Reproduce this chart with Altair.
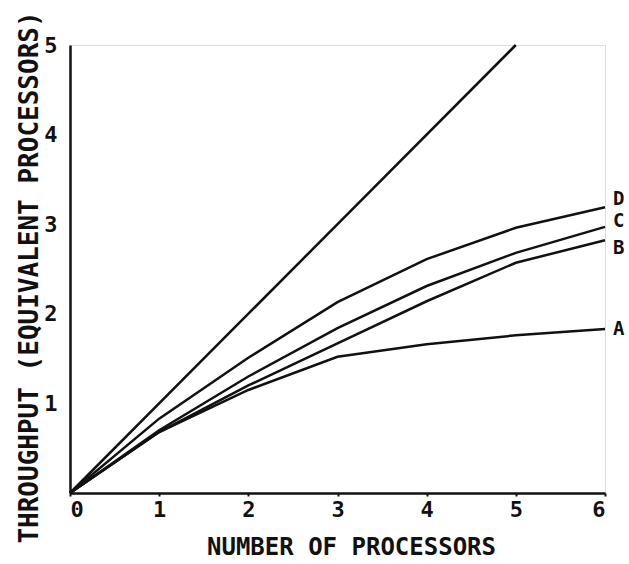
import altair as alt
import pandas as pd

processors = [0, 1, 2, 3, 4, 5, 6]
curve_a = [0, 0.68, 1.15, 1.52, 1.66, 1.76, 1.83]
curve_b = [0, 0.68, 1.20, 1.67, 2.14, 2.57, 2.82]
curve_c = [0, 0.70, 1.30, 1.84, 2.31, 2.68, 2.97]
curve_d = [0, 0.83, 1.51, 2.13, 2.61, 2.96, 3.19]
ideal_x = [0, 5]
ideal_y = [0, 5]
names = ["A", "B", "C", "D"]
label_dy = [0, 8, -6, -8]

rows = []
for name, vals in zip(names, [curve_a, curve_b, curve_c, curve_d]):
    for x, y in zip(processors, vals):
        rows.append({"series": name, "x": x, "y": y})
for x, y in zip(ideal_x, ideal_y):
    rows.append({"series": "ideal", "x": x, "y": y})
df = pd.DataFrame(rows)

ends = [curve_a[-1], curve_b[-1], curve_c[-1], curve_d[-1]]

FONT = "DejaVu Sans Mono"
W, H = 535, 448

xs = alt.X("x:Q", scale=alt.Scale(domain=[0, 6], nice=False),
           axis=alt.Axis(values=processors, format="d", title="NUMBER OF PROCESSORS", grid=False,
                         tickSize=3, labelPadding=3, labelFontSize=22, labelFont=FONT,
                         labelFontWeight="bold", labelColor="#111", domainColor="#111",
                         domainWidth=2.5, tickColor="#111", tickWidth=2,
                         titleFont=FONT, titleFontSize=24, titleFontWeight="bold",
                         titleColor="#111", titleX=281, titleY=54, titleBaseline="middle",
                         titleAlign="center"))
ys = alt.Y("y:Q", scale=alt.Scale(domain=[0, 5], nice=False),
           axis=alt.Axis(values=[1, 2, 3, 4, 5], format="d",
                         title="THROUGHPUT (EQUIVALENT PROCESSORS)",
                         grid=False, tickSize=0, labelPadding=13, labelFontSize=22,
                         labelFont=FONT, labelFontWeight="bold", labelColor="#111",
                         domainColor="#111", domainWidth=2.5,
                         titleFont=FONT, titleFontSize=26, titleFontWeight="bold",
                         titleColor="#111", titleX=-41, titleY=232, titleAngle=270,
                         titleBaseline="middle", titleAlign="center"))

lines = alt.Chart(df).mark_line(color="#111", strokeWidth=2.5).encode(
    x=xs, y=ys, detail="series:N", order="x:Q")

layers = [lines]
for name, yv, dy in zip(names, ends, label_dy):
    d = pd.DataFrame({"series": [name], "x": [processors[-1]], "y": [yv]})
    layers.append(
        alt.Chart(d).mark_text(align="left", dx=8, dy=dy, font=FONT, fontSize=19,
                               fontWeight="bold", color="#111").encode(
            x="x:Q", y="y:Q", text="series:N"))

chart = alt.layer(*layers).properties(
    width=W, height=H,
    autosize=alt.AutoSizeParams(type="none"),
    padding={"left": 70, "top": 45, "right": 24, "bottom": 71},
).configure_view(stroke=None).configure(background="white")

chart.save("out.html", embed_options={"renderer": "svg", "actions": False})
